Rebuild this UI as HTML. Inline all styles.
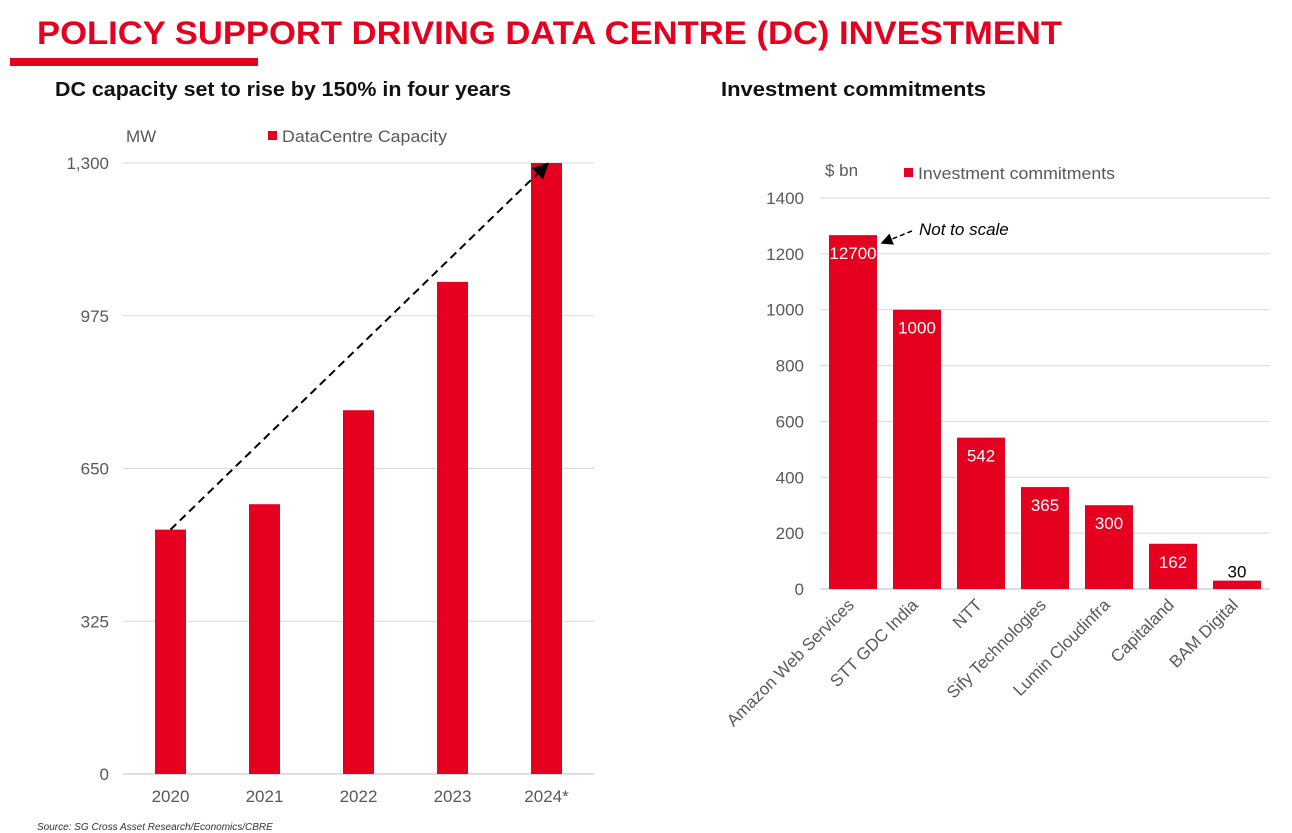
<!DOCTYPE html>
<html><head><meta charset="utf-8">
<style>
html,body{margin:0;padding:0;background:#fff;}
svg{display:block;font-family:"Liberation Sans",Arial,sans-serif;}
</style></head>
<body>
<svg id="c" width="1292" height="833" viewBox="0 0 1292 833" xmlns="http://www.w3.org/2000/svg">
<text x="37" y="44" font-size="32" font-weight="bold" fill="#e4001e" textLength="1025" lengthAdjust="spacingAndGlyphs">POLICY SUPPORT DRIVING DATA CENTRE (DC) INVESTMENT</text>
<rect x="10" y="58" width="248" height="8" fill="#e4001e"/>
<text x="55" y="96" font-size="20" font-weight="bold" fill="#111" textLength="456" lengthAdjust="spacingAndGlyphs">DC capacity set to rise by 150% in four years</text>
<text x="721" y="96" font-size="20" font-weight="bold" fill="#111" textLength="265" lengthAdjust="spacingAndGlyphs">Investment commitments</text>
<text x="126" y="142" font-size="17" fill="#595959">MW</text>
<rect x="268" y="131" width="9" height="9" fill="#e4001e"/>
<text x="282" y="142" font-size="17" fill="#595959" textLength="165" lengthAdjust="spacingAndGlyphs">DataCentre Capacity</text>
<text x="825" y="176" font-size="17" fill="#595959">$ bn</text>
<rect x="904" y="168" width="9" height="9" fill="#e4001e"/>
<text x="918" y="179" font-size="17" fill="#595959" textLength="197" lengthAdjust="spacingAndGlyphs">Investment commitments</text>
<g id="left"></g>
<g id="right"></g>
<text x="37" y="830" font-size="10" font-style="italic" fill="#333">Source: SG Cross Asset Research/Economics/CBRE</text>
</svg>
<script>
const leftCats=["2020","2021","2022","2023","2024*"];
const leftVals=[520,574,774,1047,1300];
const leftTicks=[0,325,650,975,1300];
const leftTickLabels=["0","325","650","975","1,300"];
const rightCats=["Amazon Web Services","STT GDC India","NTT","Sify Technologies","Lumin Cloudinfra","Capitaland","BAM Digital"];
const rightVals=[1267,1000,542,365,300,162,30];
const rightLabels=["12700","1000","542","365","300","162","30"];
const rightTicks=[0,200,400,600,800,1000,1200,1400];

const NS="http://www.w3.org/2000/svg";
function mk(p,t,a,txt){const e=document.createElementNS(NS,t);for(const k in a)e.setAttribute(k,a[k]);if(txt!=null)e.textContent=txt;p.appendChild(e);return e;}

const L=document.getElementById('left');
const ly=v=>774-v*(611/1300);
const lx=i=>170.5+i*94;
leftTicks.forEach((t,i)=>{
 const g=mk(L,'line',{x1:123,x2:594,y1:ly(t),y2:ly(t),stroke:i==0?'#bfbfbf':'#d9d9d9','stroke-width':1});
 
 
 const tx=mk(L,'text',{x:109,y:ly(t)+6,'font-size':17,fill:'#595959','text-anchor':'end'},leftTickLabels[i]);
 
 
});
leftVals.forEach((v,i)=>{
 const r=mk(L,'rect',{x:lx(i)-15.5,y:ly(v),width:31,height:774-ly(v),fill:'#e4001e'});
 
 
 const t=mk(L,'text',{x:lx(i),y:802,'font-size':17,fill:'#595959','text-anchor':'middle'},leftCats[i]);
 
 
});
mk(L,'defs',{}).innerHTML='<marker id="ah" markerWidth="8" markerHeight="8" refX="7" refY="4" orient="auto"><path d="M0,0L8,4L0,8z" fill="#000"/></marker>';
const ar=mk(L,'line',{x1:lx(0),y1:ly(leftVals[0]),x2:lx(4)+1,y2:ly(leftVals[4])+1,stroke:'#000','stroke-width':2,'stroke-dasharray':'8,5','marker-end':'url(#ah)'});



const R=document.getElementById('right');
const ry=v=>589-v*(391/1400);
const rx=i=>853+i*64;
rightTicks.forEach((t,i)=>{
 const g=mk(R,'line',{x1:820,x2:1270,y1:ry(t),y2:ry(t),stroke:i==0?'#bfbfbf':'#d9d9d9','stroke-width':1});
 
 
 const tx=mk(R,'text',{x:804,y:ry(t)+6,'font-size':17,fill:'#595959','text-anchor':'end'},String(t));
 
 
});
rightVals.forEach((v,i)=>{
 const r=mk(R,'rect',{x:rx(i)-24,y:ry(v),width:48,height:589-ry(v),fill:'#e4001e'});
 
 
 const inside=(589-ry(v))>30;
 const lbl=mk(R,'text',{x:rx(i),y:inside?ry(v)+24:ry(v)-3,'font-size':17,fill:inside?'#fff':'#000','text-anchor':'middle'},rightLabels[i]);
 
 
 const c=mk(R,'text',{x:rx(i)+2,y:606,'font-size':17,fill:'#595959','text-anchor':'end',transform:`rotate(-45 ${rx(i)+2} 606)`},rightCats[i]);
 
 
});
const na=mk(R,'line',{x1:912,y1:231,x2:882,y2:243,stroke:'#000','stroke-width':1.5,'stroke-dasharray':'5,3','marker-end':'url(#ah)'});


const nt=mk(R,'text',{x:919,y:235,'font-size':17,'font-style':'italic',fill:'#000'},'Not to scale');


</script>
</body></html>
